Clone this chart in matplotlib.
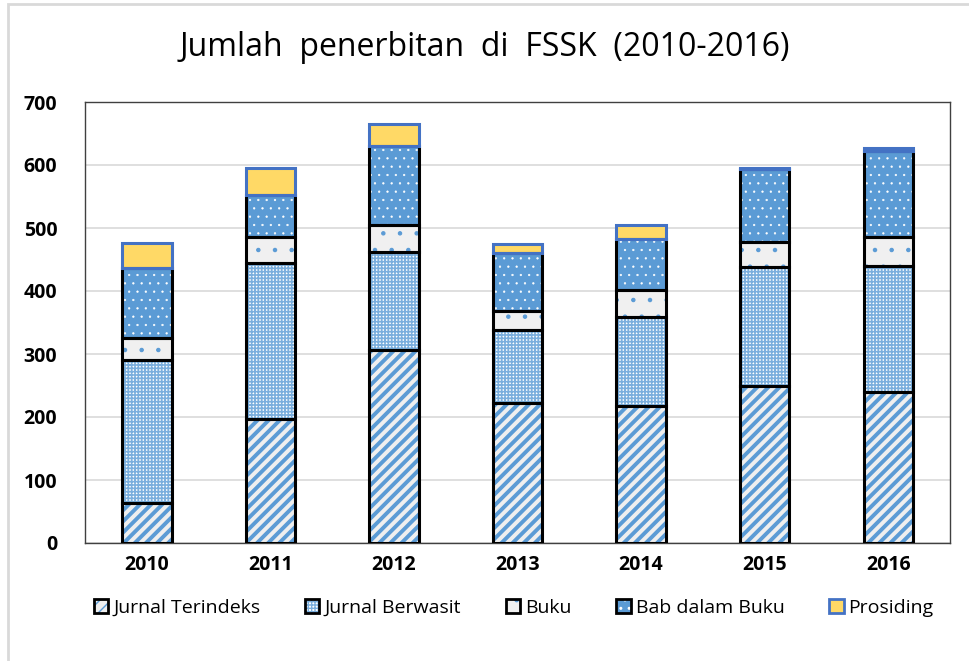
import matplotlib

matplotlib.use("Agg")
import matplotlib.pyplot as plt
import numpy as np
from matplotlib.legend_handler import HandlerTuple
from matplotlib.patches import Patch, Rectangle

years = ["2010", "2011", "2012", "2013", "2014", "2015", "2016"]
jurnal_terindeks = [63, 197, 307, 222, 217, 250, 240]
jurnal_berwasit = [227, 248, 155, 116, 141, 188, 200]
buku = [36, 40, 43, 30, 44, 40, 45]
bab_dalam_buku = [110, 67, 125, 92, 81, 115, 137]
prosiding = [40, 43, 35, 15, 22, 2, 5]

series = ["Jurnal Terindeks", "Jurnal Berwasit", "Buku", "Bab dalam Buku", "Prosiding"]
values = [jurnal_terindeks, jurnal_berwasit, buku, bab_dalam_buku, prosiding]

BLUE = "#5B9BD5"
# face, hatch, hatch colour, outline, hatch line width
styles = [
    ("#EFEFEF", "///", BLUE, "black", 2.8),
    ("#FFFFFF", "+++++", "#7AAEDD", "black", 1.2),
    ("#F0F0F0", ".", BLUE, "black", 0.8),
    (BLUE, "..", "white", "black", 0.4),
    ("#FFD966", None, "#FFD966", "#4472C4", 1.0),
]

plt.rcParams["font.family"] = ["Open Sans", "DejaVu Sans"]

fig = plt.figure(figsize=(9.69, 6.61), dpi=100)
ax = fig.add_axes([85 / 969, 1 - 543 / 661, 865 / 969, 441 / 661])

x = np.arange(len(years))
width = 0.4
bottom = np.zeros(len(years))
for name, vals, (face, hatch, hcol, edge, hlw) in zip(series, values, styles):
    vals = np.array(vals, dtype=float)
    plt.rcParams["hatch.linewidth"] = hlw
    ax.bar(x, vals, width, bottom=bottom, color=face, hatch=hatch,
           edgecolor=hcol, linewidth=0, zorder=2)
    ax.bar(x, vals, width, bottom=bottom, fill=False, edgecolor=edge,
           linewidth=2.2, zorder=3)
    bottom += vals

ax.set_xlim(-0.5, len(years) - 0.5)
ax.set_ylim(0, 700)
ax.set_yticks(range(0, 701, 100))
ax.set_xticks(x)
ax.set_xticklabels(years)
ax.tick_params(axis="x", length=0, labelsize=14, pad=9)
ax.tick_params(axis="y", length=0, labelsize=14, pad=20)
for lab in ax.get_xticklabels() + ax.get_yticklabels():
    lab.set_fontweight("bold")
ax.yaxis.grid(True, color="#D9D9D9", lw=1.2, zorder=0)
ax.set_axisbelow(True)
for sp in ax.spines.values():
    sp.set_color("#404040")
    sp.set_linewidth(1.0)

fig.text(0.5, 1 - 47 / 661, "Jumlah  penerbitan  di  FSSK  (2010-2016)",
         ha="center", va="center", fontsize=23)

handles = []
for i, (f, h, hc, e, hlw) in enumerate(styles):
    fill = Patch(facecolor=f, hatch=h, edgecolor=hc, linewidth=0)
    outline = Patch(facecolor="none", edgecolor=e, linewidth=2.0)
    handles.append((fill, outline))
fig.legend(handles, series, loc="center", bbox_to_anchor=(0.53, 1 - 608 / 661),
           ncol=5, frameon=False, fontsize=14, handlelength=0.75,
           handleheight=0.75, handletextpad=0.25, columnspacing=2.3,
           handler_map={tuple: HandlerTuple(ndivide=1, pad=0)})

fig.patches.append(Rectangle((8 / 969, -0.1), 1.2, 1.1 - 4 / 661,
                             transform=fig.transFigure, fill=False,
                             edgecolor="#D9D9D9", lw=2))

fig.savefig("out.png", dpi=100)
